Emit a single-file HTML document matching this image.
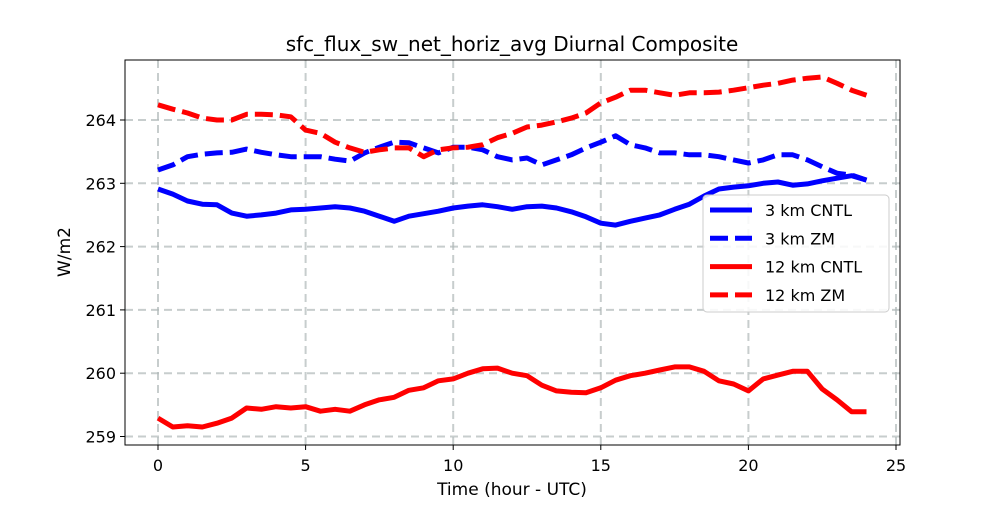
<!DOCTYPE html>
<html><head><meta charset="utf-8"><style>body{margin:0;background:#fff}svg{font-family:"DejaVu Sans","Liberation Sans",sans-serif}</style></head>
<body>
<svg id="chart" width="1000" height="500" xmlns="http://www.w3.org/2000/svg"></svg>
<script>
const cntl3 = [262.91,262.83,262.72,262.67,262.66,262.53,262.48,262.50,262.53,262.58,262.59,262.61,262.63,262.61,262.56,262.48,262.40,262.48,262.52,262.56,262.61,262.64,262.66,262.63,262.59,262.63,262.64,262.61,262.55,262.47,262.37,262.34,262.40,262.45,262.50,262.59,262.67,262.80,262.91,262.94,262.96,263.00,263.02,262.97,262.99,263.04,263.08,263.12,263.05];
const zm3 = [263.21,263.29,263.42,263.46,263.48,263.49,263.54,263.49,263.45,263.42,263.42,263.42,263.38,263.35,263.48,263.57,263.65,263.64,263.56,263.48,263.57,263.57,263.53,263.42,263.37,263.40,263.29,263.37,263.45,263.56,263.65,263.75,263.61,263.56,263.48,263.48,263.45,263.45,263.42,263.37,263.32,263.37,263.45,263.45,263.37,263.26,263.16,263.13,263.05];
const cntl12 = [259.29,259.15,259.17,259.15,259.21,259.29,259.45,259.43,259.47,259.45,259.47,259.40,259.43,259.40,259.50,259.58,259.62,259.73,259.77,259.88,259.91,260.00,260.07,260.08,260.00,259.96,259.81,259.72,259.70,259.69,259.77,259.89,259.96,260.00,260.05,260.10,260.10,260.03,259.88,259.83,259.72,259.91,259.97,260.03,260.03,259.75,259.58,259.39,259.39];
const zm12 = [264.24,264.17,264.11,264.03,264.00,264.00,264.09,264.09,264.08,264.05,263.84,263.79,263.65,263.56,263.49,263.53,263.56,263.56,263.42,263.53,263.56,263.57,263.61,263.72,263.79,263.89,263.92,263.97,264.03,264.11,264.27,264.36,264.47,264.47,264.43,264.39,264.43,264.43,264.44,264.47,264.51,264.55,264.58,264.63,264.66,264.68,264.58,264.47,264.39];
const xTicks = [0,5,10,15,20,25];
const yTicks = [259,260,261,262,263,264];
const NS='http://www.w3.org/2000/svg';
const svg=document.getElementById('chart');
const L=125,R=900,T=60,B=445;
const xs=v=>158+v*29.52;
const ys=v=>120+(264-v)*63.3;
function mk(tag,attrs,parent){const e=document.createElementNS(NS,tag);for(const k in attrs)e.setAttribute(k,attrs[k]);(parent||svg).appendChild(e);return e;}
xTicks.forEach(t=>{const x=xs(t);
 const g=mk('line',{x1:x,x2:x,y1:T,y2:B,stroke:'#b0b8b8','stroke-width':2,'stroke-dasharray':'8,5',opacity:0.7});
 
 mk('line',{x1:x,x2:x,y1:B,y2:B+5,stroke:'#000'});
 const tx=mk('text',{x:x,y:B+26,'text-anchor':'middle','font-size':16});tx.textContent=t;
 });
yTicks.forEach(t=>{const y=ys(t);
 const g=mk('line',{x1:L,x2:R,y1:y,y2:y,stroke:'#b0b8b8','stroke-width':2,'stroke-dasharray':'8,5',opacity:0.7});
 
 mk('line',{x1:L-5,x2:L,y1:y,y2:y,stroke:'#000'});
 const tx=mk('text',{x:L-9,y:y+6,'text-anchor':'end','font-size':16});tx.textContent=t;
 });
function series(arr,color,dash,name){
 const pts=arr.map((v,i)=>xs(i*0.5).toFixed(1)+','+ys(v).toFixed(1)).join(' ');
 const p=mk('polyline',{points:pts,fill:'none',stroke:color,'stroke-width':5,'stroke-linejoin':'round'});
 if(dash)p.setAttribute('stroke-dasharray','18,7');
 }
series(cntl3,'#0000ff',false,'line-3km-cntl');
series(zm3,'#0000ff',true,'line-3km-zm');
series(cntl12,'#ff0000',false,'line-12km-cntl');
series(zm12,'#ff0000',true,'line-12km-zm');
const fr=mk('rect',{x:L,y:T,width:R-L,height:B-T,fill:'none',stroke:'#000','stroke-width':1});

const t=mk('text',{x:512,y:51,'text-anchor':'middle','font-size':20});t.textContent='sfc_flux_sw_net_horiz_avg Diurnal Composite';

const xl=mk('text',{x:512,y:495,'text-anchor':'middle','font-size':17});xl.textContent='Time (hour - UTC)';

const yl=mk('text',{x:70,y:252,'text-anchor':'middle','font-size':17,transform:'rotate(-90 70 252)'});yl.textContent='W/m2';

const lg=mk('g',{});
mk('rect',{x:703,y:195,width:186,height:117,rx:4,fill:'#fff','fill-opacity':0.85,stroke:'#ccc'},lg);
[['3 km CNTL','#0000ff',false],['3 km ZM','#0000ff',true],['12 km CNTL','#ff0000',false],['12 km ZM','#ff0000',true]].forEach((e,i)=>{
 const y=210+i*28.3;
 const ln=mk('line',{x1:710,x2:752,y1:y,y2:y,stroke:e[1],'stroke-width':5},lg);
 if(e[2])ln.setAttribute('stroke-dasharray','18,7');
 const tx=mk('text',{x:765,y:y+6,'font-size':16},lg);tx.textContent=e[0];
 });
</script>
</body></html>
